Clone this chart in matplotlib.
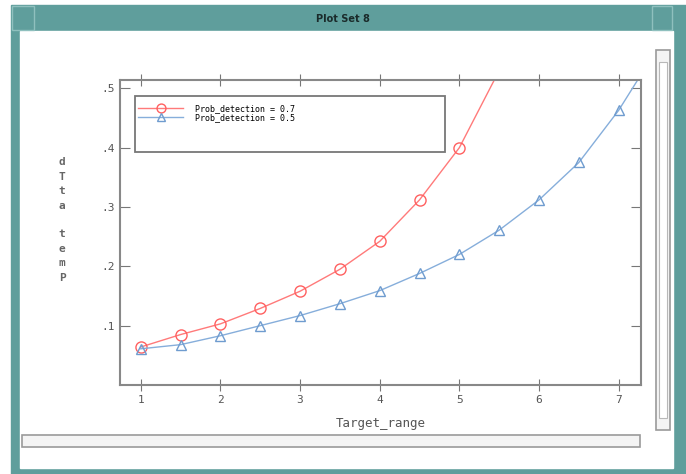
import matplotlib
matplotlib.use("Agg")
import matplotlib.pyplot as plt
from matplotlib.patches import Rectangle

# data
range_red = [1, 1.5, 2, 2.5, 3, 3.5, 4, 4.5, 5, 5.5]
pdet_red = [0.064, 0.085, 0.103, 0.129, 0.158, 0.195, 0.242, 0.312, 0.400, 0.530]
range_blue = [1, 1.5, 2, 2.5, 3, 3.5, 4, 4.5, 5, 5.5, 6, 6.5, 7, 7.5]
pdet_blue = [0.061, 0.068, 0.083, 0.100, 0.117, 0.137, 0.159, 0.188, 0.220,
             0.261, 0.312, 0.375, 0.463, 0.570]
labels = ["Prob_detection = 0.7", "Prob_detection = 0.5"]
xticks = [1, 2, 3, 4, 5, 6, 7]
yticks = [0.1, 0.2, 0.3, 0.4, 0.5]
ytick_labels = [".1", ".2", ".3", ".4", ".5"]

W, H = 686, 474
teal = "#5f9e9c"
mono = "DejaVu Sans Mono"

fig = plt.figure(figsize=(W / 100, H / 100), dpi=100)

# window frame drawn in pixel coordinates
bg = fig.add_axes([0, 0, 1, 1])
bg.set_xlim(0, W)
bg.set_ylim(H, 0)
bg.axis("off")
bg.add_patch(Rectangle((11, 5), W - 11, H - 5, color=teal))
bg.add_patch(Rectangle((20, 31), 653, 437, color="white"))
bg.add_patch(Rectangle((12, 6), 22, 24, fill=False, ec="#8fc0be", lw=1))
bg.add_patch(Rectangle((652, 6), 20, 24, fill=False, ec="#8fc0be", lw=1))
bg.text(343, 19, "Plot Set 8", ha="center", va="center", fontsize=7,
        fontweight="bold", color="#1a2a2a")
# scrollbars
bg.add_patch(Rectangle((22, 435), 618, 12, fc="#f4f4f4", ec="#9a9a9a", lw=1.2))
bg.add_patch(Rectangle((656, 50), 14, 380, fc="#f4f4f4", ec="#9a9a9a", lw=1.2))
bg.add_patch(Rectangle((659, 62), 8, 356, fc="white", ec="#b8b8b8", lw=0.8))

ax = fig.add_axes([120 / W, 1 - 385 / H, 521 / W, 305 / H])
ax.plot(range_red, pdet_red, color="#ff7a7a", lw=1, marker="o", ms=8,
        mfc="none", mec="#ff6060", mew=1, label=labels[0])
ax.plot(range_blue, pdet_blue, color="#86aedb", lw=1, marker="^", ms=7,
        mfc="none", mec="#6f9ccf", mew=1, label=labels[1])

ax.set_xlim(0.74, 7.28)
ax.set_ylim(0.0, 0.514)
ax.set_xticks(xticks)
ax.set_xticklabels([str(t) for t in xticks], fontfamily=mono, fontsize=8,
                   color="#555555")
ax.set_yticks(yticks)
ax.set_yticklabels(ytick_labels, fontfamily=mono, fontsize=8, color="#555555")
ax.tick_params(axis="x", direction="inout", length=8, top=True, color="#777777")
ax.tick_params(axis="y", direction="in", length=7, right=True, color="#777777")
for s in ax.spines.values():
    s.set_color("#888888")
    s.set_linewidth(1.5)

ax.set_xlabel("Target_range", fontfamily=mono, fontsize=9, color="#555555",
              labelpad=8)
bg.text(62, 220, "\n".join("dTta temP"), ha="center", va="center",
        fontfamily=mono, fontsize=8, fontweight="bold", color="#666666",
        linespacing=1.55)

# legend box, then the entries without a frame
ax.add_patch(Rectangle((135, 96), 310, 56, fill=False, ec="#777777", lw=1.3,
                       transform=bg.transData, clip_on=False, zorder=5))
leg = ax.legend(loc="upper left", bbox_to_anchor=((138 - 120) / 521,
                                                 (385 - 104) / 305),
                prop={"family": mono, "size": 6}, frameon=False,
                borderpad=0, handlelength=5.4, labelspacing=0.05,
                handletextpad=1.4, borderaxespad=0, markerscale=0.8)

fig.savefig("out.png", dpi=100)
